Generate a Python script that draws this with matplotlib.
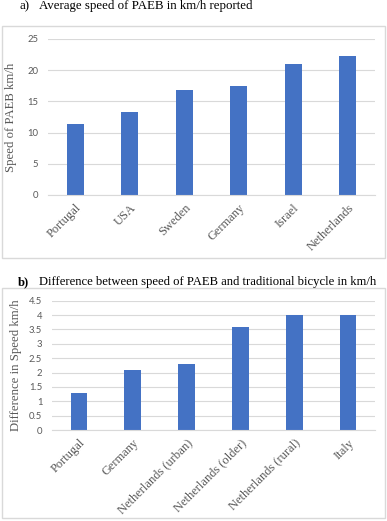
import matplotlib.pyplot as plt
from matplotlib.patches import Rectangle
import numpy as np

# panel a
countries_a = ["Portugal", "USA", "Sweden", "Germany", "Israel", "Netherlands"]
speed_a = [11.3, 13.3, 16.9, 17.4, 21.0, 22.2]
yticks_a = [0, 5, 10, 15, 20, 25]

# panel b
countries_b = ["Portugal", "Germany", "Netherlands (urban)", "Netherlands (older)",
               "Netherlands (rural)", "Italy"]
diff_b = [1.3, 2.1, 2.3, 3.6, 4.0, 4.0]
yticks_b = [0, 0.5, 1, 1.5, 2, 2.5, 3, 3.5, 4, 4.5]

BAR = "#4472C4"
GRID = "#d9d9d9"
TXT = "#595959"
W, H = 387, 521


def px_axes(fig, left, right, top, bottom):
    return fig.add_axes([left / W, 1 - bottom / H, (right - left) / W, (bottom - top) / H])


def frame(fig, left, right, top, bottom):
    fig.patches.append(Rectangle((left / W, 1 - bottom / H), (right - left) / W, (bottom - top) / H,
                                 transform=fig.transFigure, fill=False, edgecolor=GRID,
                                 linewidth=1.0))


def style(ax, cats, vals, ticks, ylabel, fmt):
    x = np.arange(len(cats))
    ax.bar(x, vals, width=0.31, color=BAR, zorder=2)
    ax.set_xlim(-0.5, len(cats) - 0.5)
    ax.set_ylim(0, ticks[-1])
    ax.set_yticks(ticks)
    ax.set_yticklabels([fmt(t) for t in ticks], fontfamily="Lato", fontsize=6.8, color=TXT)
    ax.set_xticks(x)
    ax.set_xticklabels(cats, rotation=45, ha="right", rotation_mode="anchor",
                       fontfamily="Liberation Serif", fontsize=9, color=TXT)
    ax.tick_params(axis="both", length=0)
    ax.tick_params(axis="y", pad=7)
    ax.tick_params(axis="x", pad=5)
    for s in ["top", "right", "left"]:
        ax.spines[s].set_visible(False)
    ax.spines["bottom"].set_color(GRID)
    ax.grid(axis="y", color=GRID, linewidth=0.8, zorder=0)
    ax.set_axisbelow(True)
    ax.set_ylabel(ylabel, fontfamily="Liberation Serif", fontsize=9.2, color=TXT, labelpad=4)


fig = plt.figure(figsize=(W / 100, H / 100), dpi=100)

frame(fig, 2, 385, 26, 258)
frame(fig, 2, 385, 288, 518)

ax_a = px_axes(fig, 48, 375, 39, 195)
style(ax_a, countries_a, speed_a, yticks_a, "Speed of PAEB km/h", lambda t: f"{t:g}")
ax_a.yaxis.set_label_coords(-0.095, 0.5)

ax_b = px_axes(fig, 52, 375, 300.7, 430)
style(ax_b, countries_b, diff_b, yticks_b, "Difference in Speed km/h", lambda t: f"{t:g}")
ax_b.yaxis.set_label_coords(-0.092, 0.5)

fig.text(19 / W, 1 - 6 / H, "a)", fontfamily="Liberation Serif", fontsize=9.3, va="center")
fig.text(39 / W, 1 - 6 / H, "Average speed of PAEB in km/h reported",
         fontfamily="Liberation Serif", fontsize=9.3, va="center")
fig.text(18 / W, 1 - 282 / H, "b)", fontfamily="Liberation Serif", fontsize=9.1,
         fontweight="bold", va="center")
fig.text(39 / W, 1 - 282 / H, "Difference between speed of PAEB and traditional bicycle in km/h",
         fontfamily="Liberation Serif", fontsize=9.1, va="center")

fig.savefig("out.png", dpi=100)
